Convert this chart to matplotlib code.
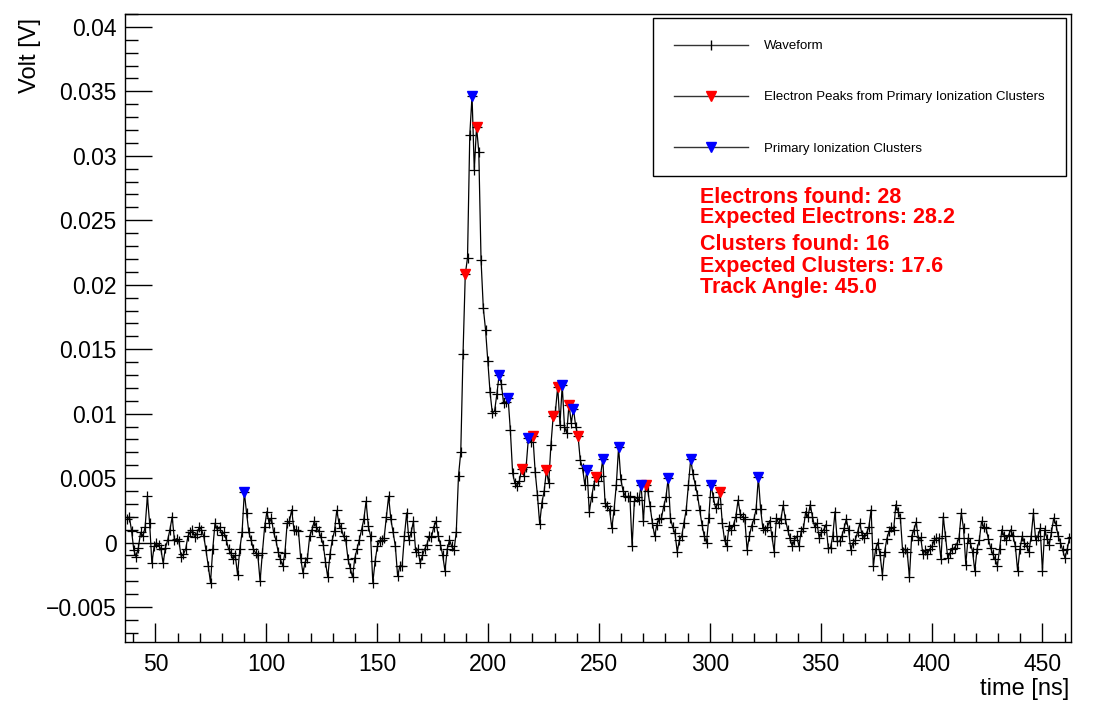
import matplotlib
matplotlib.use("Agg")
import matplotlib.pyplot as plt
from matplotlib.lines import Line2D
from matplotlib.ticker import MultipleLocator, FuncFormatter
import numpy as np

plt.rcParams['font.family'] = ['Liberation Sans', 'DejaVu Sans']

# waveform samples (mV)
sample_start = 37.24   # ns
sample_step = 1.0167   # ns
volt_mv = [
    1.8, 2.0, 0.9, -0.6, -1.1, -0.4, 0.8, 0.5, 1.2, 3.6,
    1.5, -1.6, -0.3, 0.0, -0.2, -0.5, -1.6, -0.4, 0.2, 1.0,
    2.0, 0.2, 0.3, 0.1, -1.1, -0.9, -0.5, 0.5, 0.8, 1.0,
    0.4, 0.7, 1.2, 1.0, 0.5, -0.6, -1.8, -3.1, -0.5, 1.5,
    1.0, 1.2, 0.6, 0.8, 0.2, -0.5, -0.8, -1.3, -1.0, -2.5,
    -0.5, 0.8, 3.9, 2.3, 0.8, 0.2, -0.5, -0.8, -1.0, -3.0,
    -0.8, 1.2, 2.4, 1.5, 1.9, 0.8, 0.2, -0.7, -1.3, -1.8,
    -0.8, 1.5, 1.65, 2.55, 1.0, 1.0, 0.9, -1.2, -2.35, -1.5,
    -1.2, 0.5, 1.0, 1.65, 1.2, 0.9, 0.4, -0.15, -1.5, -2.7,
    -0.9, 0.2, 0.9, 2.5, 1.5, 1.1, 0.5, 0.2, -1.3, -2.0,
    -2.7, -1.2, -0.5, 0.2, 1.0, 1.8, 3.2, 1.3, 0.5, -3.1,
    -1.45, -0.3, 0.1, 0.2, 0.35, 2.0, 3.6, 1.8, 0.8, -0.3,
    -2.6, -1.8, -1.8, 0.5, 2.3, 0.2, 0.8, 1.65, -0.7, -0.5,
    -1.6, -1.0, -0.5, -0.15, 0.5, 0.4, 1.2, 1.65, 0.5, -0.15,
    -1.0, -2.2, -0.5, 0.2, -0.3, -0.6, 0.8, 5.2, 7.0, 14.6,
    20.8, 22.1, 31.6, 34.65, 28.9, 32.25, 30.3, 21.9, 18.2, 16.5,
    14.1, 11.65, 10.05, 10.2, 11.5, 13.0, 12.3, 10.8, 10.9, 11.2,
    8.7, 5.4, 4.6, 4.4, 4.8, 5.7, 5.2, 5.9, 8.1, 7.8,
    8.25, 5.5, 3.7, 1.45, 3.1, 4.0, 5.6, 4.6, 7.6, 9.8,
    10.2, 12.1, 9.15, 12.2, 9.0, 8.5, 10.7, 9.3, 10.35, 9.0,
    8.3, 6.4, 5.8, 4.5, 5.65, 2.4, 3.5, 4.5, 5.1, 4.8,
    5.2, 6.5, 3.1, 2.8, 2.55, 1.1, 2.55, 4.5, 7.4, 4.9,
    4.0, 3.6, 3.5, 3.6, -0.3, 3.2, 3.5, 3.3, 4.5, 1.65,
    4.5, 4.0, 2.8, 1.5, 0.5, 1.4, 1.8, 1.9, 2.8, 3.5,
    5.0, 1.9, 1.2, 0.75, -0.7, 0.2, 0.5, 1.5, 2.55, 4.5,
    6.5, 5.3, 4.5, 3.7, 2.5, 1.4, 0.5, 0.0, 1.9, 4.5,
    3.5, 2.7, 3.0, 3.9, 1.5, 0.2, -0.25, 1.3, 1.0, 1.4,
    2.0, 3.3, 2.2, 2.0, 1.8, -0.55, 0.5, 1.3, 1.8, 2.6,
    5.05, 2.6, 1.1, 1.0, 1.2, 1.7, 0.5, -0.7, 1.9, 1.5,
    1.8, 2.9, 1.8, 1.0, 0.35, -0.3, 0.2, 0.5, -0.3, 0.9,
    1.1, 2.4, 2.0, 2.95, 2.0, 1.2, 1.5, 0.35, 0.8, 1.0,
    1.4, -0.4, -0.4, 0.5, 2.4, 0.1, 0.1, 0.5, 1.1, 1.8,
    1.0, -0.55, 0.0, 0.2, 0.8, 1.5, 0.6, 0.35, 0.75, 1.2,
    2.55, -1.8, -0.5, 0.0, -1.0, -2.5, -0.7, 0.3, 0.9, 1.2,
    1.0, 2.95, 2.4, 1.9, -0.7, -0.5, -0.7, -2.7, 0.5, 1.0,
    1.6, 0.2, 0.4, -0.9, -0.6, -0.9, -0.5, -0.3, 0.2, 0.35,
    0.35, -1.3, 2.0, 0.5, -1.2, -0.8, -0.5, -0.4, -0.1, 0.35,
    2.3, 1.1, -1.7, 0.35, 0.0, -0.7, -2.2, -0.5, 0.2, 1.65,
    1.2, 1.1, 0.3, -0.4, -0.9, -1.3, -1.8, -0.5, 1.0, 0.5,
    0.2, 0.6, 1.0, 0.5, -0.3, -2.2, -0.5, 0.5, 0.0, -0.3,
    -0.7, 0.5, 2.3, 0.2, 0.5, 1.1, -2.2, 1.0, 0.3, -0.15,
    0.8, 1.9, 1.4, 0.5, 0.0, -0.6, -1.2, -0.5, 0.35, 0.4,
]

# sample indices of found peaks
electron_peak_idx = [150, 155, 175, 180, 186, 189, 191, 196, 200, 208, 230, 263]
cluster_idx = [52, 153, 165, 169, 178, 193, 198, 204, 211, 218, 228, 240, 250, 259, 280]

info_lines = [
    "Electrons found: 28",
    "Expected Electrons: 28.2",
    "Clusters found: 16",
    "Expected Clusters: 17.6",
    "Track Angle: 45.0",
]

time_ns = sample_start + sample_step * np.arange(len(volt_mv))
volt = np.array(volt_mv) / 1000.0

fig = plt.figure(figsize=(10.99, 7.12), dpi=100)
ax = fig.add_axes([125 / 1099, 1 - 642 / 712, 946 / 1099, 628 / 712])

ax.plot(time_ns, volt, color='k', lw=0.9, marker='+', ms=7, mew=0.9, zorder=2)
ax.plot(time_ns[electron_peak_idx], volt[electron_peak_idx], ls='none', marker='v',
        ms=7.5, color='#ff0000', zorder=3)
ax.plot(time_ns[cluster_idx], volt[cluster_idx], ls='none', marker='v',
        ms=7.5, color='#0000ff', zorder=4)

ax.set_xlim(36.3, 462.9)
ax.set_ylim(-0.00771, 0.0410)

ax.xaxis.set_major_locator(MultipleLocator(50))
ax.xaxis.set_minor_locator(MultipleLocator(10))
ax.yaxis.set_major_locator(MultipleLocator(0.005))
ax.yaxis.set_minor_locator(MultipleLocator(0.001))
ax.yaxis.set_major_formatter(FuncFormatter(
    lambda v, p: ("%g" % round(v, 4)).replace("-", "\u2212") if abs(v) > 1e-9 else "0"))

ax.tick_params(which='both', direction='in', top=False, right=False, labelsize=16.5)
ax.tick_params(axis='x', which='major', length=13.7, width=1, pad=8)
ax.tick_params(axis='x', which='minor', length=6.5, width=1)
ax.tick_params(axis='y', which='major', length=19.4, width=1, pad=6)
ax.tick_params(axis='y', which='minor', length=9.4, width=1)
for s in ax.spines.values():
    s.set_linewidth(1)

fig.text(1069 / 1099, 1 - 695 / 712, "time [ns]", ha='right', va='baseline', fontsize=17)
fig.text(30 / 1099, 1 - 18 / 712, "Volt [V]", rotation=90, ha='center', va='top', fontsize=17)

handles = [
    Line2D([], [], color='#333333', lw=1, marker='|', ms=7, mew=1, mec='k'),
    Line2D([], [], color='#333333', lw=1, marker='v', ms=7.5, mfc='#ff0000', mec='#ff0000'),
    Line2D([], [], color='#333333', lw=1, marker='v', ms=7.5, mfc='#0000ff', mec='#0000ff'),
]
labels = ["Waveform", "Electron Peaks from Primary Ionization Clusters",
          "Primary Ionization Clusters"]
leg = ax.legend(handles, labels, loc='upper left',
                bbox_to_anchor=((652.7 - 125) / 946, (642 - 18.3) / 628 - 0.3,
                                (1066 - 652.7) / 946, 0.3),
                mode='expand', borderaxespad=0, fontsize=9.5, numpoints=1,
                handlelength=5.55, handletextpad=1.2, labelspacing=2.95,
                borderpad=1.65, fancybox=False, framealpha=1, edgecolor='k')
leg.get_frame().set_linewidth(1)

baselines = [202.5, 223.5, 250, 272, 293]
for txt, yb in zip(info_lines, baselines):
    fig.text(700 / 1099, 1 - yb / 712, txt, color='#ff0000', fontweight='bold',
             fontsize=15.5, ha='left', va='baseline')

fig.savefig("out.png", dpi=100)
